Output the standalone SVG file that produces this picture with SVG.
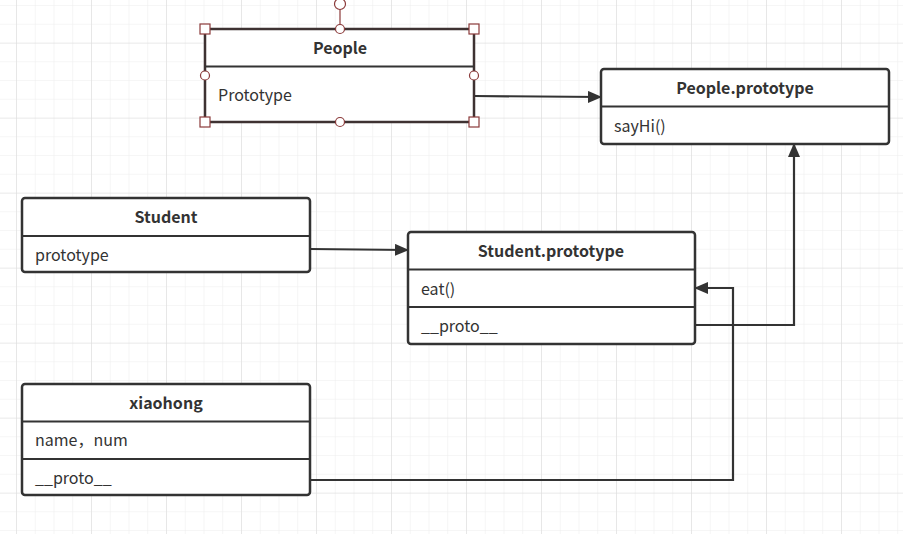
<svg xmlns="http://www.w3.org/2000/svg" width="903" height="534" viewBox="0 0 903 534">
<defs>
<pattern id="minor" x="16" y="5" width="18.75" height="18.75" patternUnits="userSpaceOnUse">
<path d="M0 0V18.75M0 0H18.75" stroke="#eeeeee" stroke-width="1.2" fill="none"/>
</pattern>
<pattern id="major" x="16" y="-32.3" width="75" height="75" patternUnits="userSpaceOnUse">
<path d="M0 0V75M0 0H75" stroke="#dddddd" stroke-width="1.2" fill="none"/>
</pattern>
<marker id="arr" markerWidth="14" markerHeight="12" refX="13" refY="6" orient="auto" markerUnits="userSpaceOnUse">
<path d="M0 0L14 6L0 12Z" fill="#333"/>
</marker>
</defs>
<style>
.box{fill:#fff;stroke:#333;stroke-width:2.5}
.div{stroke:#333;stroke-width:2.2}
.t{font-family:"Noto Sans CJK SC","Noto Sans",sans-serif;font-size:16px;font-weight:bold;fill:#333;text-anchor:middle}
.a{font-family:"Noto Sans CJK SC","Noto Sans",sans-serif;font-size:16px;fill:#333}
.c{fill:none;stroke:#333;stroke-width:2.2}
.h{fill:#fff;stroke:#8b3a3a;stroke-width:1.2}
</style>
<rect width="903" height="534" fill="#fff"/>
<rect width="903" height="534" fill="url(#minor)"/>
<rect width="903" height="534" fill="url(#major)"/>

<g id="connectors">
<path class="c" d="M474 96L601 97" marker-end="url(#arr)"/>
<path class="c" d="M310 249L408 250" marker-end="url(#arr)"/>
<path class="c" d="M695 325H794V144" marker-end="url(#arr)"/>
<path class="c" d="M310 480H733V288H695" marker-end="url(#arr)"/>
</g>

<g id="people">
<rect x="205" y="29" width="269" height="93" fill="#fff" stroke="#3e3232" stroke-width="2.5"/>
<line x1="205" y1="66.5" x2="474" y2="66.5" class="div"/>
<text class="t" x="340" y="54">People</text>
<text class="a" x="218" y="101">Prototype</text>
<line x1="340" y1="4" x2="340" y2="29" stroke="#8b3a3a" stroke-width="1.2"/>
<circle class="h" cx="340" cy="4" r="5.5"/>
<circle class="h" cx="340" cy="29" r="4.5"/>
<circle class="h" cx="340" cy="122" r="4.5"/>
<circle class="h" cx="205" cy="75.5" r="4.5"/>
<circle class="h" cx="474" cy="75.5" r="4.5"/>
<rect class="h" x="200" y="24" width="10" height="10"/>
<rect class="h" x="469" y="24" width="10" height="10"/>
<rect class="h" x="200" y="117" width="10" height="10"/>
<rect class="h" x="469" y="117" width="10" height="10"/>
</g>

<g id="people-prototype">
<rect class="box" x="601" y="69" width="288" height="75" rx="3"/>
<line class="div" x1="601" y1="106.5" x2="889" y2="106.5"/>
<text class="t" x="745" y="94">People.prototype</text>
<text class="a" x="614" y="132">sayHi()</text>
</g>

<g id="student">
<rect class="box" x="22" y="198" width="288" height="74" rx="3"/>
<line class="div" x1="22" y1="236" x2="310" y2="236"/>
<text class="t" x="166" y="223">Student</text>
<text class="a" x="35" y="261">prototype</text>
</g>

<g id="student-prototype">
<rect class="box" x="408" y="232" width="287" height="112" rx="3"/>
<line class="div" x1="408" y1="269.5" x2="695" y2="269.5"/>
<line class="div" x1="408" y1="307" x2="695" y2="307"/>
<text class="t" x="551" y="257">Student.prototype</text>
<text class="a" x="421" y="295">eat()</text>
<text class="a" x="421" y="332">__proto__</text>
</g>

<g id="xiaohong">
<rect class="box" x="22" y="384" width="288" height="111" rx="3"/>
<line class="div" x1="22" y1="421.5" x2="310" y2="421.5"/>
<line class="div" x1="22" y1="459" x2="310" y2="459"/>
<text class="t" x="166" y="409">xiaohong</text>
<text class="a" x="35" y="446">name，num</text>
<text class="a" x="35" y="484">__proto__</text>
</g>
</svg>
